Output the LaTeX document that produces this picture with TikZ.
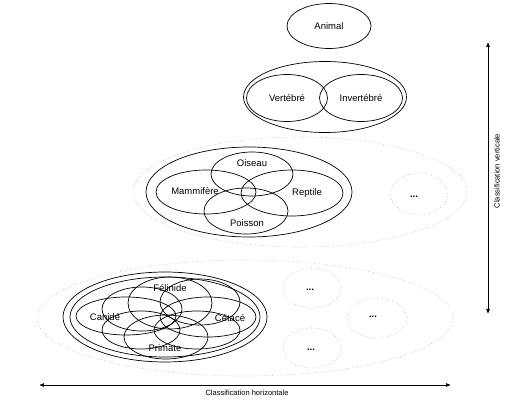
\documentclass[tikz,border=0pt]{standalone}
\usepackage{fontspec}
\setmainfont{Liberation Sans}
\usetikzlibrary{arrows,shapes.geometric}

\begin{document}
\begin{tikzpicture}[x=1pt,y=-1pt,>=stealth']
  \tikzstyle{set}=[draw,ellipse,inner sep=0pt,line width=0.7pt]
  \tikzstyle{group}=[draw=gray!60,dotted,ellipse,inner sep=0pt,line width=0.6pt]
  \tikzstyle{lbl}=[font=\fontsize{9.5}{11}\selectfont]
  \tikzstyle{axis}=[font=\fontsize{7.5}{9}\selectfont]

  \useasboundingbox (0,0) rectangle (527,404);

  % niveau 1
  \node[set,minimum width=84pt,minimum height=45pt] (animal) at (329,26) {};

  % niveau 2
  \node[set,minimum width=163pt,minimum height=71pt] (vert-all) at (325,97) {};
  \node[set,minimum width=81pt,minimum height=47pt] (vert) at (287,98) {};
  \node[set,minimum width=83pt,minimum height=47pt] (invert) at (361,98) {};

  % niveau 3
  \node[group,minimum width=334pt,minimum height=110pt] (g3) at (300,192) {};
  \node[set,minimum width=206pt,minimum height=90pt] (vertebres) at (249,192) {};
  \node[set,minimum width=100pt,minimum height=44pt] (mam) at (206,192) {};
  \node[set,minimum width=102pt,minimum height=46pt] (rep) at (292,193) {};
  \node[set,minimum width=82pt,minimum height=44pt] (ois) at (252,174) {};
  \node[set,minimum width=84pt,minimum height=46pt] (poi) at (246,211) {};
  \node[group,minimum width=57pt,minimum height=42pt] (b3) at (419,194) {};

  % niveau 4
  \node[group,minimum width=416pt,minimum height=116pt] (g4) at (245,318) {};
  \node[set,minimum width=204pt,minimum height=90pt] (mam-a) at (165,317) {};
  \node[set,minimum width=190pt,minimum height=80pt] (mam-b) at (165,317) {};
  \node[set,minimum width=100pt,minimum height=38pt] (can) at (126,316) {};
  \node[set,minimum width=96pt,minimum height=40pt] (cet) at (208,317) {};
  \node[set,minimum width=84pt,minimum height=52pt] (fel) at (170,303) {};
  \node[set,minimum width=84pt,minimum height=44pt] (pri) at (166,337) {};
  \node[set,minimum width=80pt,minimum height=44pt] (nw) at (142,309) {};
  \node[set,minimum width=80pt,minimum height=46pt] (ne) at (200,302) {};
  \node[set,minimum width=78pt,minimum height=38pt] (sw) at (141,330) {};
  \node[set,minimum width=86pt,minimum height=38pt] (se) at (197,330) {};
  \node[group,minimum width=58pt,minimum height=40pt] (b4a) at (312,288) {};
  \node[group,minimum width=60pt,minimum height=40pt] (b4b) at (377,318) {};
  \node[group,minimum width=58pt,minimum height=40pt] (b4c) at (312,348) {};

  % textes
  \node[lbl] (t-animal) at (329,26) {Animal};
  \node[lbl] (t-vert) at (287,98) {Vertébré};
  \node[lbl] (t-invert) at (361,98) {Invertébré};
  \node[lbl] (t-ois) at (252,163) {Oiseau};
  \node[lbl] (t-mam) at (195,191) {Mammifère};
  \node[lbl] (t-rep) at (307,193) {Reptile};
  \node[lbl] (t-poi) at (247,223) {Poisson};
  \node[lbl] (t-fel) at (170,288) {Félinide};
  \node[lbl] (t-can) at (105,317) {Canidé};
  \node[lbl] (t-cet) at (230,318) {Cétacé};
  \node[lbl] (t-pri) at (165,348) {Primate};
  \node[lbl] (d3) at (414,197) {\textbf{...}};
  \node[lbl] (d4a) at (310,290) {\textbf{...}};
  \node[lbl] (d4b) at (373,317) {\textbf{...}};
  \node[lbl] (d4c) at (311,350) {\textbf{...}};

  % axes
  \coordinate (h-left) at (40,385);
  \coordinate (h-right) at (450,385);
  \coordinate (v-top) at (488,43);
  \coordinate (v-bot) at (488,313);
  \draw[<->,line width=0.6pt] (h-left) -- (h-right);
  \draw[<->,line width=0.6pt] (v-top) -- (v-bot);
  \node[axis] (t-horiz) at (247,393) {Classification horizontale};
  \node[axis,rotate=90] (t-verti) at (497,171) {Classification verticale};
\end{tikzpicture}
\end{document}
